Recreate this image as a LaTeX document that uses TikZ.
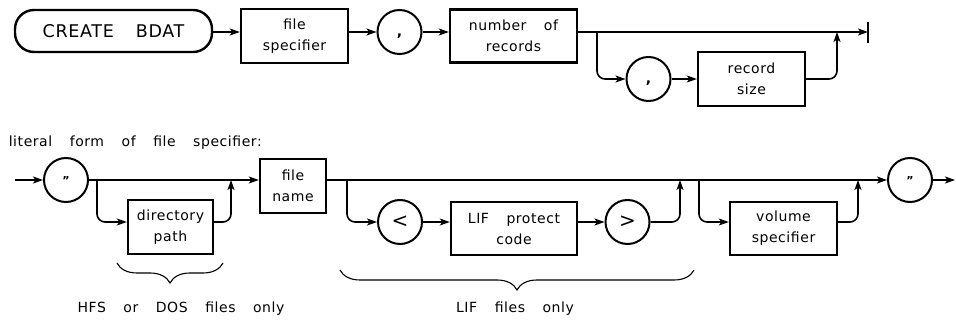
\documentclass[tikz,border=0pt]{standalone}
\usepackage{fontspec}
\setmainfont{DejaVu Sans}[LetterSpace=4,WordSpace=3.5]
\usetikzlibrary{arrows.meta,decorations.pathreplacing}
\begin{document}
\begin{tikzpicture}[x=1pt,y=-1pt,
  line width=1.6pt,
  arr/.style={-{Stealth[length=10pt,width=7pt,inset=2.5pt]}},
  box/.style={draw,line width=2.4pt,rectangle,align=center,font=\fontsize{14}{21}\selectfont,inner sep=0pt},
  circ/.style={draw,line width=2pt,circle,minimum size=44pt,inner sep=0pt},
  rc/.style={rounded corners=8pt},
  lbl/.style={font=\fontsize{14}{17}\selectfont,inner sep=0pt},
  brc/.style={decorate,decoration={brace,amplitude=20pt},line width=1.1pt}]
\useasboundingbox (0,0) rectangle (956,320);

% ---- top diagram ----
\node[draw,line width=2.4pt,rounded corners=19pt,minimum width=197pt,minimum height=42pt,
      font=\fontsize{17.5}{20}\selectfont,inner sep=0pt] (cb) at (113.5,31) {CREATE BDAT};
\node[box,minimum width=107pt,minimum height=54pt] (fs) at (294.5,36) {file\\specifier};
\node[circ,font=\fontsize{14}{21}\selectfont\bfseries] (c1) at (399.5,32) {\strut,};
\node[box,minimum width=127pt,minimum height=53pt] (nr) at (513.5,36) {number of\\records};
\node[circ,font=\fontsize{14}{21}\selectfont\bfseries] (c2) at (648.5,79) {\strut,};
\node[box,minimum width=107pt,minimum height=54pt] (rs) at (751.5,79) {record\\size};
\coordinate (endbar) at (868,32);
\coordinate (b1) at (597,32);
\coordinate (j1) at (837,32);

\draw[arr] (cb.east |- c1.west) -- (fs.west |- c1.west);
\draw[arr] (fs.east |- c1.west) -- (c1.west);
\draw[arr] (c1.east) -- (nr.west |- c1.east);
\draw[arr] (nr.east |- c1.east) -- (endbar);
\draw[line width=1.8pt] ([yshift=10pt]endbar) -- ([yshift=-11pt]endbar);
\draw[arr,rc] (b1) |- (c2.west);
\draw[arr] (c2.east) -- (rs.west |- c2.east);
\draw[arr,rc] (rs.east |- c2.east) -| (j1);

% ---- bottom diagram ----
\node[lbl,anchor=base west] (lit) at (8,147) {literal form of file specifier:};
\coordinate (s2) at (15,180);
\node[circ,font=\fontsize{11}{13}\selectfont\bfseries] (q1) at (66,180) {\symbol{34}};
\node[box,minimum width=85pt,minimum height=54pt] (dp) at (170.5,227) {directory\\path};
\node[box,minimum width=66pt,minimum height=54pt] (fn) at (293,186) {file\\name};
\node[circ,font=\fontsize{20}{24}\selectfont] (lt) at (400,222) {<};
\node[box,minimum width=126pt,minimum height=53pt] (lp) at (514,228.5) {LIF protect\\code};
\node[circ,font=\fontsize{20}{24}\selectfont] (gt) at (627.5,222) {>};
\node[box,minimum width=107pt,minimum height=53pt] (vs) at (783.5,228.5) {volume\\specifier};
\node[circ,font=\fontsize{11}{13}\selectfont\bfseries] (q2) at (910,180) {\symbol{34}};
\coordinate (e2) at (955,180);
\coordinate (b2) at (97,180);
\coordinate (j2) at (231,180);
\coordinate (b3) at (347,180);
\coordinate (j3) at (680,180);
\coordinate (b4) at (699,180);
\coordinate (j4) at (858,180);

\draw[arr] (s2) -- (q1.west);
\draw[arr] (q1.east) -- (fn.west |- q1.east);
\draw[arr,rc] (b2) |- (dp.west |- lt.center);
\draw[arr,rc] (dp.east |- lt.center) -| (j2);
\draw[arr] (fn.east |- q1.east) -- (q2.west);
\draw[arr,rc] (b3) |- (lt.west);
\draw[arr] (lt.east) -- (lp.west |- lt.east);
\draw[arr] (lp.east |- gt.west) -- (gt.west);
\draw[arr,rc] (gt.east) -| (j3);
\draw[arr,rc] (b4) |- (vs.west |- gt.center);
\draw[arr,rc] (vs.east |- gt.center) -| (j4);
\draw[arr] (q2.east) -- (e2);

% braces
\coordinate (br1a) at (223,263);
\coordinate (br1b) at (117,263);
\coordinate (br2a) at (694,270);
\coordinate (br2b) at (340,270);
\draw[brc] (br1a) -- (br1b);
\draw[brc] (br2a) -- (br2b);
\node[lbl,anchor=base] (t1) at (181,313) {HFS or DOS files only};
\node[lbl,anchor=base] (t2) at (515,313) {LIF files only};
\end{tikzpicture}
\end{document}
